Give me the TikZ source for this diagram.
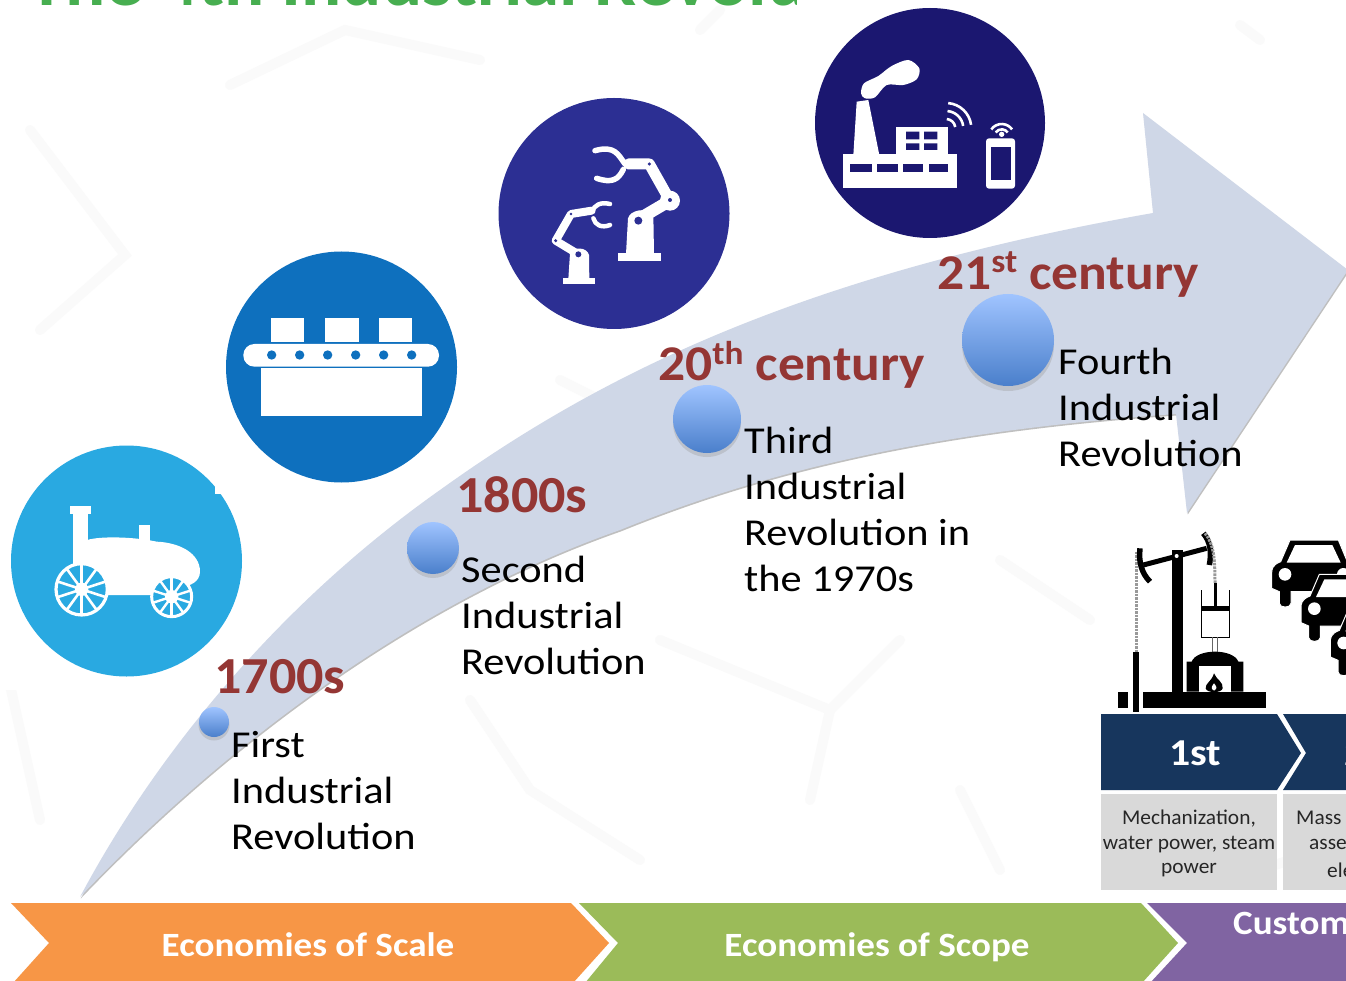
\documentclass[tikz,border=0pt]{standalone}
\usepackage{fontspec}
\setmainfont{Carlito}
\newfontfamily\fBody[FakeStretch=1.115]{Carlito}
\newfontfamily\fHdr[FakeStretch=1.07]{Carlito}
\newfontfamily\fHead[FakeStretch=1.04]{Carlito}
\newfontfamily\fBar[FakeStretch=1.09]{Carlito}
\newfontfamily\fNum[FakeStretch=1.1]{Carlito}
\newfontfamily\fSmall[FakeStretch=1.02]{Carlito}
\usetikzlibrary{calc}
\definecolor{arrowblue}{HTML}{CFD7E7}
\definecolor{hdr}{HTML}{943634}
\definecolor{navy}{HTML}{17365D}
\definecolor{ttl}{HTML}{47AE50}
\definecolor{cOne}{HTML}{29A9E1}
\definecolor{cTwo}{HTML}{0E70BE}
\definecolor{cThree}{HTML}{2C2F93}
\definecolor{cFour}{HTML}{1B1770}
\definecolor{orbtop}{HTML}{A0C4FF}
\definecolor{orbbot}{HTML}{4A7FCB}
\definecolor{bOrange}{HTML}{F79646}
\definecolor{bGreen}{HTML}{9BBB59}
\definecolor{bPurple}{HTML}{8064A2}
\tikzset{
  hdrtext/.style={anchor=base west,inner sep=0pt,text=hdr,font=\fHdr\bfseries\fontsize{50}{60}\selectfont},
  headtext/.style={anchor=base west,inner sep=0pt,text=hdr,font=\fHead\bfseries\fontsize{52}{60}\selectfont},
  bodytext/.style={anchor=base west,inner sep=0pt,align=left,text=black,font=\fBody\fontsize{38}{46}\selectfont},
  orb/.style={circle,inner sep=0pt,minimum size=#1,top color=orbtop,bottom color=orbbot},
  bartext/.style={inner sep=0pt,text=white,font=\fBar\bfseries\fontsize{34}{40}\selectfont},
  numtext/.style={inner sep=0pt,text=white,font=\fNum\bfseries\fontsize{38}{44}\selectfont},
  smalltext/.style={inner sep=0pt,align=center,text=black!85,font=\fSmall\fontsize{21}{26}\selectfont},
  faint/.style={line width=10pt,line cap=round,draw=black!2},
  ic/.style={fill=white,draw=none},
  chainlink/.style={draw=black!40,line width=3pt,dash pattern=on 2.5pt off 1pt},
  wline/.style={draw=white,line cap=round,line join=round}
}
\newcommand{\carshape}[2]{%
\begin{scope}[shift={(#1,#2)}]
\fill[black,draw=white,line width=1pt] (600,60) -- (745,60) -- (772,125) .. controls (800,135) and (800,150) .. (800,160) -- (800,205) -- (777,215) -- (777,250) .. controls (777,265) and (742,265) .. (742,250) -- (742,215) -- (603,215) -- (603,250) .. controls (603,265) and (568,265) .. (568,250) -- (568,215) -- (545,205) -- (545,160) .. controls (545,150) and (545,135) .. (572,125) -- cycle;
\fill[white] (590,128) -- (615,75) -- (727,75) -- (752,128) -- cycle;
\fill[white] (585,163) circle (19) (760,163) circle (19);
\end{scope}}
\begin{document}
\begin{tikzpicture}[x=1pt,y=-1pt]
\useasboundingbox (0,0) rectangle (1346,981);
\clip (0,0) rectangle (1346,981);
\fill[white] (0,0) rectangle (1346,981);
% faint background marks
\draw[faint] (230,85) -- (345,30) -- (480,60);
\draw[faint] (700,30) -- (720,10);
\draw[faint] (30,130) -- (125,255) -- (40,330);
\draw[faint] (1240,25) -- (1260,40);
\draw[faint] (560,380) -- (640,420);
\draw[faint] (660,640) -- (830,710) -- (900,640);
\draw[faint] (810,800) -- (830,710);
\draw[faint] (470,700) -- (530,790) -- (640,860);
\draw[faint] (1000,560) -- (1090,620);
\draw[faint] (1000,870) -- (960,790);
\draw[faint] (0,640) -- (40,820);
\draw[faint] (1290,860) -- (1230,880);
% title
\node[anchor=base west,inner sep=0pt,text=ttl,font=\bfseries\fontsize{75}{90}\selectfont] (title) at (28,6) {The  4th Industrial Revolu};
% white icon backdrops
\fill[white] (797,0) rectangle (1062,248);
\fill[white] (215,240) rectangle (470,494);
\fill[white] (0,430) rectangle (215,690);
% big arrow
\def\arrowpath{(80,897) .. controls (150,765) and (270,610) .. (440,490) .. controls (600,375) and (800,275) .. (1153,213) -- (1143,113) -- (1348,270) -- (1187,513) -- (1176,414) .. controls (950,430) and (780,465) .. (620,530) .. controls (420,600) and (230,740) .. (80,897) -- cycle}
\fill[black!45,opacity=.55,yshift=-1.5pt,xshift=.8pt] \arrowpath;
\fill[arrowblue] \arrowpath;
% ICON 1
\node[circle,fill=cOne,inner sep=0pt,minimum size=231pt] (icon1) at (126.5,561) {};
\fill[white] (215,470) rectangle (245,494);
\begin{scope}[shift={(0,430)},scale=1/3]
\fill[ic] (210,228) rectangle (272,252);
\fill[ic] (220,250) rectangle (265,420);
\fill[ic] (418,285) rectangle (450,345);
\fill[ic] (262,330) .. controls (300,318) and (400,320) .. (470,335) .. controls (540,338) and (600,370) .. (600,425) .. controls (600,455) and (570,470) .. (540,470) -- (450,495) -- (320,495) -- (250,420) -- cycle;
\draw[white,line width=3.2pt,fill=cOne] (245,478) circle (77);
\foreach \a in {0,36,...,324}{\draw[white,line width=2.6pt] (245,478) -- ++(\a+18:77);}
\fill[white] (245,478) circle (20);
\draw[white,line width=3pt,fill=cOne] (515,500) circle (60);
\foreach \a in {0,36,...,324}{\draw[white,line width=2.4pt] (515,500) -- ++(\a+18:60);}
\fill[white] (515,500) circle (20);
\end{scope}
% ICON 2
\node[circle,fill=cTwo,inner sep=0pt,minimum size=231pt] (icon2) at (341.5,367) {};
\begin{scope}[shift={(215,240)},scale=1/3]
\fill[ic] (168,233) rectangle (268,305);
\fill[ic] (330,233) rectangle (432,305);
\fill[ic] (492,233) rectangle (592,305);
\fill[ic,rounded corners=11pt] (85,312) rectangle (672,380);
\fill[ic] (138,385) rectangle (622,528);
\foreach \x in {170,254,338,422,506,590}{\fill[cTwo] (\x,345) circle (14);}
\end{scope}
% ICON 3
\node[circle,fill=cThree,inner sep=0pt,minimum size=231pt] (icon3) at (614,213.5) {};
\begin{scope}[shift={(490,90)},scale=1/3]
\fill[ic] (385,490) rectangle (512,512);
\fill[ic] (408,492) -- (414,385) .. controls (420,360) and (470,350) .. (490,375) -- (492,492) -- cycle;
\draw[wline,line width=11pt] (540,332) -- (478,222) -- (415,222);
\fill[white] (540,332) circle (30);
\draw[wline,line width=12pt] (540,332) -- (450,385);
\fill[cThree] (445,392) circle (12) (540,330) circle (6) (478,222) circle (5);
\draw[wline,line width=5.5pt] (405,222) .. controls (385,195) and (375,165) .. (315,182);
\draw[wline,line width=5.5pt] (400,238) .. controls (385,270) and (365,280) .. (320,265);
\fill[ic] (218,565) rectangle (315,583);
\fill[ic] (235,567) -- (240,490) .. controls (250,470) and (290,470) .. (297,495) -- (298,567) -- cycle;
\draw[wline,line width=8pt] (265,493) -- (197,452) -- (243,372) -- (305,362);
\fill[cThree] (265,493) circle (9) (197,452) circle (5) (243,372) circle (4);
\draw[wline,line width=4.5pt] (305,365) .. controls (315,345) and (330,335) .. (360,342);
\draw[wline,line width=4.5pt] (310,385) .. controls (315,405) and (335,415) .. (360,405);
\end{scope}
% ICON 4
\node[circle,fill=cFour,inner sep=0pt,minimum size=230pt] (icon4) at (930,123) {};
\begin{scope}[shift={(800,0)},scale=1/3]
\fill[white] plot[smooth cycle] coordinates {(183,280) (192,250) (235,228) (275,198) (325,180) (358,205) (350,238) (310,255) (260,255) (225,292) (195,295)};
\fill[ic] (170,305) -- (205,300) -- (238,465) -- (160,465) -- cycle;
\fill[ic] (130,462) rectangle (470,565);
\fill[ic] (288,380) rectangle (445,465);
\foreach \x/\w in {150/65,230/65,310/60,388/57}{\fill[cFour] (\x,492) rectangle ++(\w,23);}
\fill[cFour] (318,395) rectangle (358,418) (372,395) rectangle (412,418) (318,430) rectangle (358,450) (372,430) rectangle (412,450);
\foreach \r in {28,52,76}{\draw[white,line width=2.6pt] (438,385) ++(-85:\r) arc[start angle=-85,end angle=-8,radius=\r];}
\fill[white,rounded corners=3pt] (558,415) rectangle (645,566);
\fill[cFour] (572,440) rectangle (632,540);
\foreach \r in {22,38}{\draw[white,line width=2.6pt] (605,410) ++(-145:\r) arc[start angle=-145,end angle=-35,radius=\r];}
\fill[white] (605,403) circle (8);
\end{scope}
% balls
\fill[black!40,opacity=.35] (214,725) circle (15.5);
\fill[black!40,opacity=.35] (433,552) circle (26);
\fill[black!40,opacity=.35] (707,423) circle (34);
\fill[black!40,opacity=.35] (1008,345) circle (46);
\node[orb=30pt] (b1) at (214,722) {};
\node[orb=52pt] (b2) at (433,548) {};
\node[orb=68pt] (b3) at (707,419) {};
\node[orb=92pt] (b4) at (1008,340) {};
% headers
\node[headtext] (h1) at (214,693) {1700s};
\node[headtext] (h2) at (456,512) {1800s};
\node[hdrtext] (h3) at (658,381) {20\raisebox{17pt}{\fontsize{33}{33}\selectfont th} century};
\node[hdrtext] (h4) at (937,290) {21\raisebox{17pt}{\fontsize{33}{33}\selectfont st} century};
% body text
\node[bodytext] (t1) at (231,849) {First\\Industrial\\Revolution};
\node[bodytext] (t2) at (461,674) {Second\\Industrial\\Revolution};
\node[bodytext] (t3) at (744,591) {Third\\Industrial\\Revolution in\\the 1970s};
\node[bodytext] (t4) at (1058,466) {Fourth\\Industrial\\Revolution};
% pump + cars
\begin{scope}[shift={(1090,520)},scale=1/3]
\carshape{0}{0}
\carshape{88}{103}
\carshape{176}{206}
\fill[black] (160,515) rectangle (527,565);
\fill[black] (85,515) rectangle (113,565);
\fill[black] (130,395) rectangle (146,575);
\draw[chainlink] (138,95) -- (138,395);
\fill[black] (245,90) rectangle (280,515);
\draw[black,line width=5pt] (160,135) -- (350,85);
\draw[black,line width=5.5pt] (150,85) .. controls (145,125) and (155,160) .. (180,185);
\draw[black,line width=5.5pt] (340,40) .. controls (362,65) and (365,100) .. (358,135);
\fill[white] (260,108) circle (6);
\draw[chainlink] (345,40) .. controls (370,70) and (375,110) .. (375,190);
\draw[black,line width=3pt] (375,190) -- (375,260);
\draw[black,line width=1.6pt] (335,210) -- (335,352) -- (418,352) -- (418,210);
\fill[black] (335,258) rectangle (418,272);
\draw[black!60,line width=1pt] (368,352) -- (368,395) (381,352) -- (381,395);
\fill[black] (290,425) -- (305,425) .. controls (320,385) and (430,385) .. (445,425) -- (460,425) -- (460,515) -- (290,515) -- cycle;
\fill[white] (328,437) rectangle (422,515);
\fill[black] (372,460) .. controls (380,480) and (400,485) .. (398,505) .. controls (395,520) and (350,520) .. (347,505) .. controls (345,490) and (365,485) .. (372,460) -- cycle;
\fill[white] (372,490) .. controls (378,498) and (385,505) .. (372,512) .. controls (360,505) and (366,498) .. (372,490) -- cycle;
\end{scope}
% navy chevrons and grey boxes
\fill[navy] (1101,714) -- (1277,714) -- (1301,753) -- (1277,790) -- (1101,790) -- cycle;
\node[numtext] (n1) at (1195,753) {1st};
\fill[navy] (1283,714) -- (1350,714) -- (1350,790) -- (1283,790) -- (1306,753) -- cycle;
\node[numtext,anchor=west] (n2) at (1344,753) {2};
\fill[black!15] (1101,794) rectangle (1277,890);
\fill[black!15] (1283,794) rectangle (1350,890);
\node[smalltext] (s1) at (1189,819) {Mechanization,};
\node[smalltext] (s2) at (1189,845) {water power, steam};
\node[smalltext] (s3) at (1189,870) {power};
\node[smalltext,anchor=west] (s4) at (1296,818) {Mass};
\node[smalltext,anchor=west] (s5) at (1309,844) {asse};
\node[smalltext,anchor=west] (s6) at (1327,870) {ele};
% bottom bar
\fill[bOrange] (11,903) -- (571,903) -- (609,943) -- (573,983) -- (13,983) -- (49,943) -- cycle;
\fill[bGreen] (579,903) -- (1141,903) -- (1178,943) -- (1142,983) -- (585,983) -- (618,943) -- cycle;
\fill[bPurple] (1147,903) -- (1350,903) -- (1350,983) -- (1150,983) -- (1187,943) -- cycle;
\node[bartext,anchor=base] (e1) at (308,956) {Economies of Scale};
\node[bartext,anchor=base] (e2) at (877,956) {Economies of Scope};
\node[bartext,anchor=base west] (e3) at (1233,934) {Custom};
\end{tikzpicture}
\end{document}
